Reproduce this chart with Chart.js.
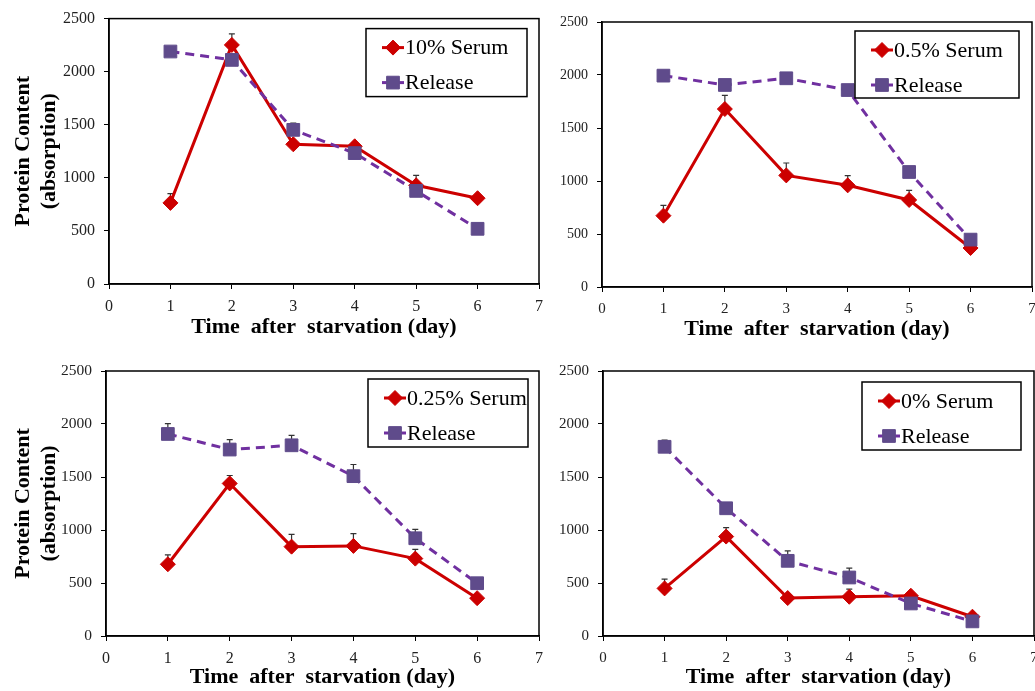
<!DOCTYPE html>
<html>
<head>
<meta charset="utf-8">
<script src="https://cdn.jsdelivr.net/npm/chart.js@4.4.0/dist/chart.umd.min.js"></script>
<style>
    body { margin: 0; background: #fff; width: 1035px; height: 691px; overflow: hidden; position: relative; }
    canvas { position: absolute; }
</style>
</head>
<body>
<canvas id="c1" width="560" height="345" style="left:0;top:0"></canvas>
<canvas id="c2" width="505" height="345" style="left:545px;top:0"></canvas>
<canvas id="c3" width="560" height="346" style="left:0;top:345px"></canvas>
<canvas id="c4" width="505" height="346" style="left:545px;top:345px"></canvas>
<script>
// date
const days = [1, 2, 3, 4, 5, 6];
const xTickValues = [0, 1, 2, 3, 4, 5, 6, 7];
const yTickValues = [0, 500, 1000, 1500, 2000, 2500];

const serum10 = [764, 2252, 1316, 1297, 930, 808];
const serum10Err = [87, 104, 30, 30, 94, 20];
const release10 = [2190, 2111, 1452, 1233, 877, 520];
const release10Err = [20, 20, 63, 20, 20, 20];

const serum05 = [673, 1679, 1053, 959, 821, 368];
const serum05Err = [97, 129, 117, 91, 91, 20];
const release05 = [1994, 1906, 1969, 1858, 1085, 447];
const release05Err = [20, 20, 20, 20, 20, 20];

const serum025 = [677, 1439, 843, 850, 730, 357];
const serum025Err = [88, 75, 116, 116, 88, 20];
const release025 = [1906, 1759, 1799, 1508, 922, 498];
const release025Err = [97, 94, 94, 110, 84, 20];

const serum0 = [449, 938, 358, 370, 380, 182];
const serum0Err = [88, 85, 20, 72, 20, 20];
const release0 = [1785, 1205, 709, 552, 307, 138];
const release0Err = [63, 20, 94, 88, 20, 20];

const RED = '#CC0000';
const PURPLE_PT = '#5F4B8B';
const PURPLE_LN = '#7030A0';
const SERIF = '"Liberation Serif", "Times New Roman", serif';

// chenar in jurul zonei de desen + bare de eroare
const frameAndErrors = {
    id: 'frameAndErrors',
    beforeDatasetsDraw(chart) {
        const ctx = chart.ctx;
        const a = chart.chartArea;
        const yScale = chart.scales.y;
        ctx.save();
        ctx.strokeStyle = '#000';
        ctx.lineWidth = 1.5;
        ctx.strokeRect(a.left, a.top, a.right - a.left, a.bottom - a.top);

        ctx.strokeStyle = '#333';
        ctx.lineWidth = 1.2;
        chart.data.datasets.forEach((ds, i) => {
            const meta = chart.getDatasetMeta(i);
            meta.data.forEach((pt, j) => {
                const top = yScale.getPixelForValue(ds.data[j].y + ds.errorBars[j]);
                ctx.beginPath();
                ctx.moveTo(pt.x, pt.y);
                ctx.lineTo(pt.x, top);
                ctx.moveTo(pt.x - 3, top);
                ctx.lineTo(pt.x + 3, top);
                ctx.stroke();
            });
        });
        ctx.restore();
    }
};

// legenda cu chenar, in interiorul graficului
const boxLegend = {
    id: 'boxLegend',
    afterDraw(chart, args, opts) {
        const ctx = chart.ctx;
        const a = chart.chartArea;
        const x = a.right - opts.right - opts.width;
        const y = a.top + opts.top;
        ctx.save();
        ctx.fillStyle = '#fff';
        ctx.fillRect(x, y, opts.width, opts.height);
        ctx.strokeStyle = '#000';
        ctx.lineWidth = 1.5;
        ctx.strokeRect(x, y, opts.width, opts.height);

        chart.data.datasets.forEach((ds, i) => {
            const ry = y + 19 + i * 35;
            ctx.setLineDash([]);
            ctx.strokeStyle = ds.borderColor;
            ctx.lineWidth = 3;
            ctx.beginPath();
            ctx.moveTo(x + 16, ry);
            ctx.lineTo(x + 38, ry);
            ctx.stroke();
            ctx.fillStyle = ds.pointBackgroundColor;
            ctx.strokeStyle = ds.pointBorderColor;
            ctx.lineWidth = 1;
            Chart.helpers.drawPoint(ctx, {
                pointStyle: ds.pointStyle, rotation: 0, radius: ds.pointRadius, borderWidth: 1
            }, x + 27, ry);
            ctx.fillStyle = '#000';
            ctx.font = '22px ' + SERIF;
            ctx.textBaseline = 'middle';
            ctx.textAlign = 'left';
            ctx.fillText(ds.label, x + 39, ry + 1);
        });
        ctx.restore();
    }
};

function makeChart(id, label, serum, serumErr, release, releaseErr, g) {
    const ctx = document.getElementById(id).getContext('2d');
    return new Chart(ctx, {
        type: 'line',
        data: {
            datasets: [{
                label: label,
                data: days.map((d, i) => ({x: d, y: serum[i]})),
                errorBars: serumErr,
                borderColor: RED,
                backgroundColor: RED,
                pointBackgroundColor: RED,
                pointBorderColor: RED,
                pointStyle: 'rectRot',
                pointRadius: 7.5,
                pointBorderWidth: 1,
                borderWidth: 3,
                tension: 0,
                order: 2
            }, {
                label: 'Release',
                data: days.map((d, i) => ({x: d, y: release[i]})),
                errorBars: releaseErr,
                borderColor: PURPLE_LN,
                backgroundColor: PURPLE_PT,
                pointBackgroundColor: PURPLE_PT,
                pointBorderColor: PURPLE_PT,
                pointStyle: 'rect',
                pointRadius: 9,
                pointBorderWidth: 1,
                borderWidth: 3,
                borderDash: [9, 6],
                tension: 0,
                order: 1
            }]
        },
        options: {
            responsive: false,
            animation: false,
            layout: {padding: {left: 0, right: g.pr, top: g.pt, bottom: 0}},
            plugins: {
                legend: {display: false},
                tooltip: {enabled: false},
                title: {display: false},
                boxLegend: g.legend
            },
            scales: {
                x: {
                    type: 'linear',
                    min: 0,
                    max: 7,
                    afterBuildTicks: s => { s.ticks = xTickValues.map(v => ({value: v})); },
                    afterFit: s => { s.height = g.xh; },
                    grid: {drawOnChartArea: false, drawTicks: true, tickLength: 5, color: '#000'},
                    border: {color: '#000', width: 1.5},
                    ticks: {font: {family: SERIF, size: g.tf}, color: '#222', padding: 8, maxRotation: 0, autoSkip: false,
                        callback: v => String(v)},
                    title: {
                        display: true,
                        text: 'Time  after  starvation (day)',
                        color: '#000',
                        font: {family: SERIF, size: 22, weight: 'bold'},
                        padding: {top: 0, bottom: g.tpb}
                    }
                },
                y: {
                    min: 0,
                    max: 2500,
                    afterBuildTicks: s => { s.ticks = yTickValues.map(v => ({value: v})); },
                    afterFit: s => { s.width = g.yw; },
                    grid: {drawOnChartArea: false, drawTicks: true, tickLength: 5, color: '#000'},
                    border: {color: '#000', width: 1.5},
                    ticks: {font: {family: SERIF, size: g.yf}, color: '#222', padding: 9,
                        callback: v => String(v)},
                    title: {
                        display: g.ytitle,
                        text: ['Protein Content', '(absorption)'],
                        color: '#000',
                        font: {family: SERIF, size: 22, weight: 'bold', lineHeight: 1.15},
                        padding: {top: 11, bottom: 0}
                    }
                }
            }
        },
        plugins: [frameAndErrors, boxLegend]
    });
}

makeChart('c1', '10% Serum', serum10, serum10Err, release10, release10Err,
    {pr: 21, pt: 17, xh: 61, yw: 109, tf: 16, yf: 16, tpb: 4, ytitle: true,
     legend: {right: 12, top: 10, width: 161, height: 68}});
makeChart('c2', '0.5% Serum', serum05, serum05Err, release05, release05Err,
    {pr: 18, pt: 22, xh: 58, yw: 57, tf: 15, yf: 14, tpb: 2, ytitle: false,
     legend: {right: 13, top: 9, width: 164, height: 67}});
makeChart('c3', '0.25% Serum', serum025, serum025Err, release025, release025Err,
    {pr: 21, pt: 26, xh: 55, yw: 106, tf: 16, yf: 15.5, tpb: 0, ytitle: true,
     legend: {right: 11, top: 8, width: 160, height: 68}});
makeChart('c4', '0% Serum', serum0, serum0Err, release0, release0Err,
    {pr: 16, pt: 26, xh: 55, yw: 58, tf: 15, yf: 15, tpb: 0, ytitle: false,
     legend: {right: 13, top: 11, width: 159, height: 68}});
</script>
</body>
</html>
